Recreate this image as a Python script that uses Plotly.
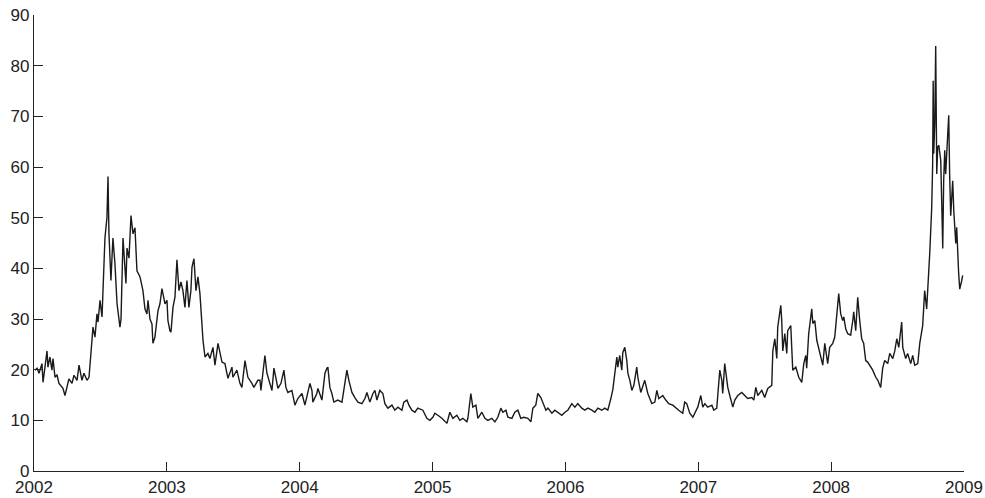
import plotly.graph_objects as go

# Volatility index readings, 2002-2008: fraction of year and index level
frac_2002 = [0.008, 0.023, 0.038, 0.060, 0.068, 0.083, 0.098, 0.105, 0.120, 0.135,
             0.143, 0.158, 0.173, 0.188, 0.211, 0.218, 0.233, 0.248, 0.263, 0.286,
             0.301, 0.324, 0.339, 0.361, 0.376, 0.399, 0.414, 0.429, 0.444, 0.459,
             0.474, 0.482, 0.497, 0.512, 0.527, 0.534, 0.549, 0.557, 0.564, 0.579,
             0.594, 0.609, 0.625, 0.632, 0.647, 0.655, 0.670, 0.692, 0.700, 0.715,
             0.730, 0.745, 0.760, 0.775, 0.798, 0.820, 0.835, 0.850, 0.858, 0.873,
             0.888, 0.895, 0.910, 0.933, 0.948, 0.963, 0.986]
vix_2002 = [19.9, 20.3, 19.3, 21.2, 17.5, 20.5, 23.7, 20.5, 22.5, 19.9,
            22.2, 18.5, 19.0, 17.3, 16.5, 16.3, 14.9, 16.5, 18.2, 17.3,
            18.9, 17.9, 20.9, 17.9, 19.3, 17.9, 18.5, 23.4, 28.4, 26.4,
            31.0, 29.4, 33.7, 30.4, 43.1, 46.0, 50.0, 58.1, 47.0, 37.6,
            46.0, 41.0, 33.0, 31.6, 28.4, 30.0, 46.0, 37.0, 44.0, 42.0,
            50.4, 46.8, 48.0, 39.5, 38.3, 35.6, 32.0, 31.0, 33.7, 30.0,
            29.0, 25.2, 26.4, 31.6, 33.0, 36.0, 33.0]

frac_2003 = [0.001, 0.008, 0.023, 0.031, 0.046, 0.061, 0.076, 0.091, 0.106, 0.121,
             0.136, 0.151, 0.166, 0.181, 0.189, 0.204, 0.219, 0.234, 0.249, 0.264,
             0.272, 0.287, 0.309, 0.324, 0.347, 0.362, 0.385, 0.415, 0.437, 0.460,
             0.490, 0.497, 0.527, 0.550, 0.565, 0.588, 0.610, 0.640, 0.655, 0.685,
             0.701, 0.708, 0.731, 0.738, 0.753, 0.776, 0.791, 0.806, 0.821, 0.836,
             0.859, 0.881, 0.896, 0.911, 0.941, 0.949, 0.964, 0.986]
vix_2003 = [33.7, 29.7, 27.7, 27.4, 32.3, 34.3, 41.7, 35.6, 37.3, 35.6,
            32.3, 37.6, 32.3, 35.6, 40.2, 41.9, 35.6, 38.3, 35.0, 29.0,
            25.8, 22.5, 23.2, 22.2, 24.4, 20.9, 25.2, 21.5, 21.2, 18.3,
            20.5, 18.5, 19.9, 17.3, 16.5, 21.8, 18.5, 17.3, 16.5, 17.9,
            17.9, 15.9, 20.9, 22.8, 19.3, 17.3, 15.9, 20.3, 17.9, 16.3,
            17.3, 19.9, 16.5, 15.5, 15.9, 14.9, 13.0, 14.3]

frac_2004 = [0.017, 0.039, 0.054, 0.077, 0.092, 0.099, 0.129, 0.137, 0.167, 0.190,
             0.205, 0.212, 0.227, 0.242, 0.257, 0.287, 0.318, 0.333, 0.348, 0.355,
             0.370, 0.393, 0.415, 0.438, 0.468, 0.491, 0.506, 0.528, 0.551, 0.566,
             0.581, 0.603, 0.626, 0.641, 0.664, 0.694, 0.716, 0.739, 0.769, 0.784,
             0.807, 0.822, 0.844, 0.867, 0.889, 0.927, 0.957, 0.980]
vix_2004 = [15.3, 13.0, 14.5, 17.3, 15.9, 13.6, 15.3, 16.3, 14.0, 19.3,
            20.3, 20.5, 16.5, 15.3, 13.6, 14.0, 13.6, 16.3, 18.5, 19.9,
            17.9, 15.5, 14.5, 13.6, 13.3, 14.3, 15.5, 13.6, 15.3, 15.9,
            14.0, 15.9, 15.3, 13.3, 12.4, 13.0, 12.0, 12.6, 12.0, 13.6,
            14.0, 13.0, 12.0, 11.6, 12.4, 12.0, 10.4, 10.0]

frac_2005 = [0.002, 0.017, 0.040, 0.070, 0.108, 0.130, 0.153, 0.183, 0.205, 0.228,
             0.258, 0.266, 0.288, 0.303, 0.326, 0.341, 0.371, 0.394, 0.416, 0.446,
             0.469, 0.491, 0.514, 0.529, 0.552, 0.567, 0.597, 0.619, 0.642, 0.664,
             0.687, 0.717, 0.740, 0.755, 0.777, 0.792, 0.815, 0.830, 0.853, 0.868,
             0.898, 0.920, 0.943, 0.973, 0.996]
vix_2005 = [10.6, 11.4, 11.0, 10.4, 9.4, 11.6, 10.4, 11.0, 10.0, 10.4,
            9.7, 10.4, 15.3, 12.6, 13.0, 10.4, 11.6, 10.4, 10.0, 10.4,
            9.7, 10.6, 12.4, 11.6, 12.0, 10.6, 10.4, 11.6, 12.0, 10.4,
            10.6, 10.4, 9.7, 12.4, 13.0, 15.3, 14.5, 13.6, 12.0, 12.4,
            11.4, 12.0, 11.6, 11.0, 11.6]

frac_2006 = [0.018, 0.048, 0.071, 0.093, 0.123, 0.146, 0.169, 0.199, 0.221, 0.244,
             0.274, 0.296, 0.319, 0.342, 0.357, 0.372, 0.387, 0.394, 0.409, 0.424,
             0.432, 0.447, 0.462, 0.470, 0.485, 0.500, 0.515, 0.537, 0.545, 0.567,
             0.582, 0.597, 0.620, 0.650, 0.673, 0.688, 0.703, 0.733, 0.755, 0.778,
             0.808, 0.831, 0.853, 0.883, 0.898, 0.913, 0.936, 0.959, 0.981, 0.996]
vix_2006 = [12.0, 13.3, 12.6, 13.3, 12.4, 12.0, 12.4, 12.0, 11.6, 12.4,
            12.0, 12.4, 12.0, 14.3, 16.1, 19.3, 22.5, 20.5, 22.8, 19.9,
            23.4, 24.4, 21.8, 19.3, 17.9, 15.9, 16.9, 20.5, 18.5, 15.5,
            16.9, 17.9, 15.3, 13.3, 13.6, 15.9, 14.3, 14.9, 14.0, 13.3,
            13.0, 12.4, 12.0, 11.4, 13.6, 13.3, 11.4, 10.6, 12.0, 12.6]

frac_2007 = [0.019, 0.034, 0.049, 0.071, 0.102, 0.117, 0.139, 0.154, 0.162, 0.177,
             0.184, 0.199, 0.214, 0.222, 0.237, 0.260, 0.275, 0.297, 0.327, 0.350,
             0.372, 0.403, 0.418, 0.433, 0.448, 0.478, 0.500, 0.523, 0.553, 0.561,
             0.576, 0.591, 0.598, 0.621, 0.628, 0.636, 0.651, 0.666, 0.673, 0.696,
             0.704, 0.711, 0.734, 0.756, 0.779, 0.794, 0.809, 0.816, 0.831, 0.854,
             0.862, 0.877, 0.892, 0.914, 0.937, 0.952, 0.974, 0.989]
vix_2007 = [14.9, 12.6, 13.3, 12.6, 13.0, 12.0, 12.4, 16.5, 19.9, 17.9,
            15.3, 21.2, 17.9, 16.5, 14.9, 12.6, 14.0, 14.9, 15.5, 14.9,
            14.3, 14.5, 14.0, 16.5, 14.9, 15.9, 14.5, 16.3, 16.9, 23.7,
            26.1, 22.2, 28.4, 32.7, 29.7, 23.7, 27.1, 23.2, 27.7, 28.7,
            23.7, 19.9, 20.5, 18.5, 17.5, 21.2, 22.8, 20.3, 27.1, 32.0,
            29.1, 29.7, 25.8, 23.4, 20.9, 25.2, 21.2, 24.4]

frac_2008 = [0.012, 0.027, 0.042, 0.057, 0.072, 0.087, 0.095, 0.110, 0.125, 0.147,
             0.163, 0.170, 0.185, 0.200, 0.215, 0.230, 0.245, 0.260, 0.275, 0.298,
             0.313, 0.336, 0.351, 0.373, 0.388, 0.403, 0.426, 0.441, 0.464, 0.479,
             0.494, 0.509, 0.531, 0.539, 0.561, 0.576, 0.599, 0.614, 0.629, 0.652,
             0.667, 0.689, 0.704, 0.719, 0.727, 0.742, 0.757, 0.764, 0.768, 0.772,
             0.780, 0.787, 0.795, 0.802, 0.810, 0.825, 0.832, 0.840, 0.847, 0.855,
             0.862, 0.870, 0.885, 0.892, 0.900, 0.915, 0.923, 0.938, 0.945, 0.960,
             0.968, 0.983, 0.990]
vix_2008 = [25.2, 26.4, 31.0, 35.0, 31.0, 29.7, 30.4, 28.0, 27.1, 26.8,
            29.7, 31.4, 27.7, 34.3, 29.7, 26.1, 25.2, 21.8, 21.5, 20.5,
            19.9, 18.5, 17.9, 16.5, 20.3, 21.8, 21.2, 23.2, 22.2, 23.7,
            26.1, 24.4, 29.4, 24.4, 22.2, 23.2, 21.2, 22.8, 20.9, 21.2,
            25.2, 28.7, 35.6, 32.0, 37.0, 42.9, 52.0, 60.6, 77.0, 62.6,
            68.5, 83.9, 58.6, 63.9, 64.3, 61.3, 53.4, 43.9, 57.3, 63.3,
            58.6, 63.3, 70.2, 58.6, 50.4, 57.3, 51.4, 44.9, 48.1, 38.9,
            35.9, 37.6, 38.6]

year_fracs = {2002: frac_2002, 2003: frac_2003, 2004: frac_2004, 2005: frac_2005,
              2006: frac_2006, 2007: frac_2007, 2008: frac_2008}
year_vals = {2002: vix_2002, 2003: vix_2003, 2004: vix_2004, 2005: vix_2005,
             2006: vix_2006, 2007: vix_2007, 2008: vix_2008}

x_tick_vals = [2002, 2003, 2004, 2005, 2006, 2007, 2008, 2009]
y_tick_vals = [0, 10, 20, 30, 40, 50, 60, 70, 80, 90]

xs, ys = [], []
for yr in sorted(year_fracs):
    for f, v in zip(year_fracs[yr], year_vals[yr]):
        xs.append(yr + f)
        ys.append(v)

fig = go.Figure()
fig.add_trace(go.Scatter(x=xs, y=ys, mode="lines",
                         line=dict(color="#1a1a1a", width=1.4),
                         hoverinfo="skip", showlegend=False))

axis_font = dict(family="Liberation Sans, Arial, Helvetica, sans-serif", size=17, color="#222222")
fig.update_layout(
    width=985, height=498,
    margin=dict(l=34, r=21, t=15, b=27, pad=0),
    paper_bgcolor="white", plot_bgcolor="white",
    showlegend=False,
)
fig.update_xaxes(range=[2002, 2009], tickmode="array", tickvals=x_tick_vals,
                 ticktext=[str(v) for v in x_tick_vals], automargin=False,
                 showline=True, linecolor="#222222", linewidth=1.2,
                 ticks="inside", ticklen=9, tickwidth=1.2, tickcolor="#222222",
                 showgrid=False, zeroline=False, tickfont=axis_font)
fig.update_yaxes(range=[0, 90], tickmode="array", tickvals=y_tick_vals,
                 ticktext=[str(v) for v in y_tick_vals], automargin=False,
                 showline=True, linecolor="#222222", linewidth=1.2,
                 ticks="inside", ticklen=9, tickwidth=1.2, tickcolor="#222222",
                 showgrid=False, zeroline=False, tickfont=axis_font)

fig.write_html("out.html")
